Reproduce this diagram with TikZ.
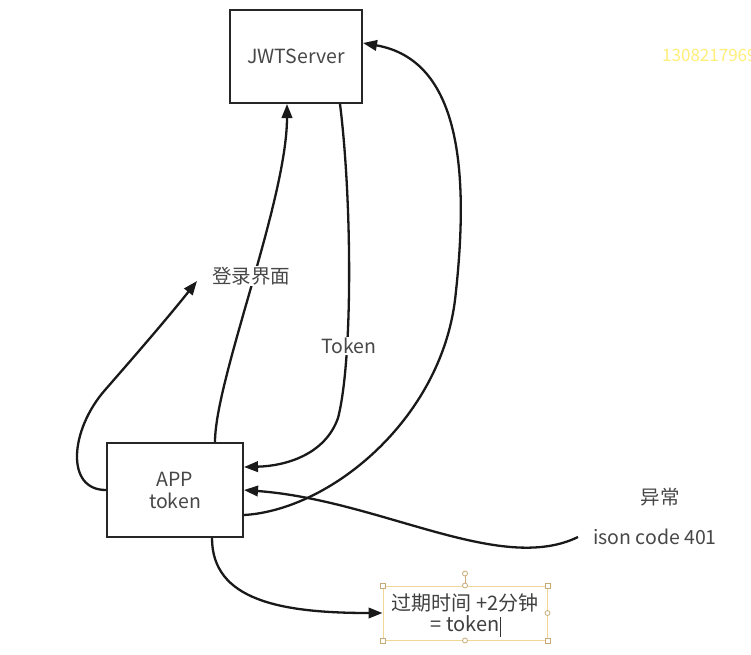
\documentclass[tikz,border=0pt]{standalone}
\usepackage{fontspec}
\setmainfont{Noto Sans CJK SC}
\usetikzlibrary{arrows.meta}
\definecolor{wm}{RGB}{255,238,120}
\definecolor{hand}{RGB}{200,170,120}
\definecolor{selbox}{RGB}{240,215,150}
\begin{document}
\begin{tikzpicture}[x=1pt,y=-1pt,
  box/.style={draw=black!85,line width=2pt,inner sep=0pt,text=black!72,font=\fontsize{19.5}{22}\selectfont,align=center},
  conn/.style={draw=black!90,line width=2.3pt,-{Triangle[length=14pt,width=10.5pt]}},
  lbl/.style={text=black!72,font=\fontsize{19.5}{22}\selectfont,inner sep=1pt},
  handsq/.style={draw=hand,fill=white,line width=0.8pt,minimum size=5pt,inner sep=0pt},
  handci/.style={draw=hand,fill=white,circle,line width=0.8pt,minimum size=5pt,inner sep=0pt}]
\useasboundingbox (0,0) rectangle (751,654);
\clip (0,0) rectangle (751,654);
\fill[white] (0,0) rectangle (751,654);

% boxes
\node[box,minimum width=132pt,minimum height=93pt] (jwt) at (296,56.5) {JWTServer};
\node[box,minimum width=136pt,minimum height=94pt] (app) at (175,490) {APP\\token};
\node[draw=selbox,line width=1pt,minimum width=164pt,minimum height=54pt,inner sep=0pt,align=center,
      text=black!75,font=\fontsize{20}{21}\selectfont] (exp) at (465,613) {过期时间 +2分钟\\= token};

% watermark
\node[anchor=west,text=wm,font=\rmfamily\fontsize{17}{20}\selectfont,inner sep=0pt] (wmk) at (662,55) {13082179699};

% labels
\node[lbl,anchor=west] (code) at (592,537) {ison code 401};
\node[lbl] (err) at (660,497) {异常};
\coordinate (loginarrow) at (197,281);

% connectors
\draw[conn] ([xshift=40pt]app.north) .. controls (215,380) and (287,200) .. ([xshift=-9pt]jwt.south);
\draw[conn] ([xshift=44pt]jwt.south) .. controls (352,200) and (353,360) .. (338,418) .. controls (325,455) and (285,466) .. ([yshift=23pt]app.east);
\draw[conn] ([yshift=-25pt]app.east) .. controls (330,510) and (440,420) .. (455,300) .. controls (470,170) and (460,60) .. ([yshift=13.5pt]jwt.east);
\draw[conn] (app.west) .. controls (65,490) and (70,430) .. (105,390) .. controls (140,350) and (170,315) .. (loginarrow);
\draw[conn] ([xshift=-14pt]code.west) .. controls (500,575) and (380,500) .. (app.east);
\draw[conn] ([xshift=37pt]app.south) .. controls (212,600) and (280,613) .. (exp.west);

% labels on top of lines
\node[lbl,fill=white] (login) at (251,276) {登录界面};
\node[lbl,fill=white] (tok) at (349,346) {Token};

% selection handles of the text box
\draw[hand,line width=0.8pt] (exp.north) -- ++(0,-12) coordinate (rot);
\node[handci] (h0) at (rot) {};
\node[handsq] (h1) at (exp.north west) {};
\node[handsq] (h2) at (exp.north east) {};
\node[handsq] (h3) at (exp.south west) {};
\node[handsq] (h4) at (exp.south east) {};
\node[handci] (h5) at (exp.north) {};
\node[handci] (h6) at (exp.south) {};
\node[handci] (h7) at (exp.east) {};
\draw[black!80,line width=0.8pt] ([xshift=35pt,yshift=-4pt]exp.center) -- ++(0,20);
\end{tikzpicture}
\end{document}
